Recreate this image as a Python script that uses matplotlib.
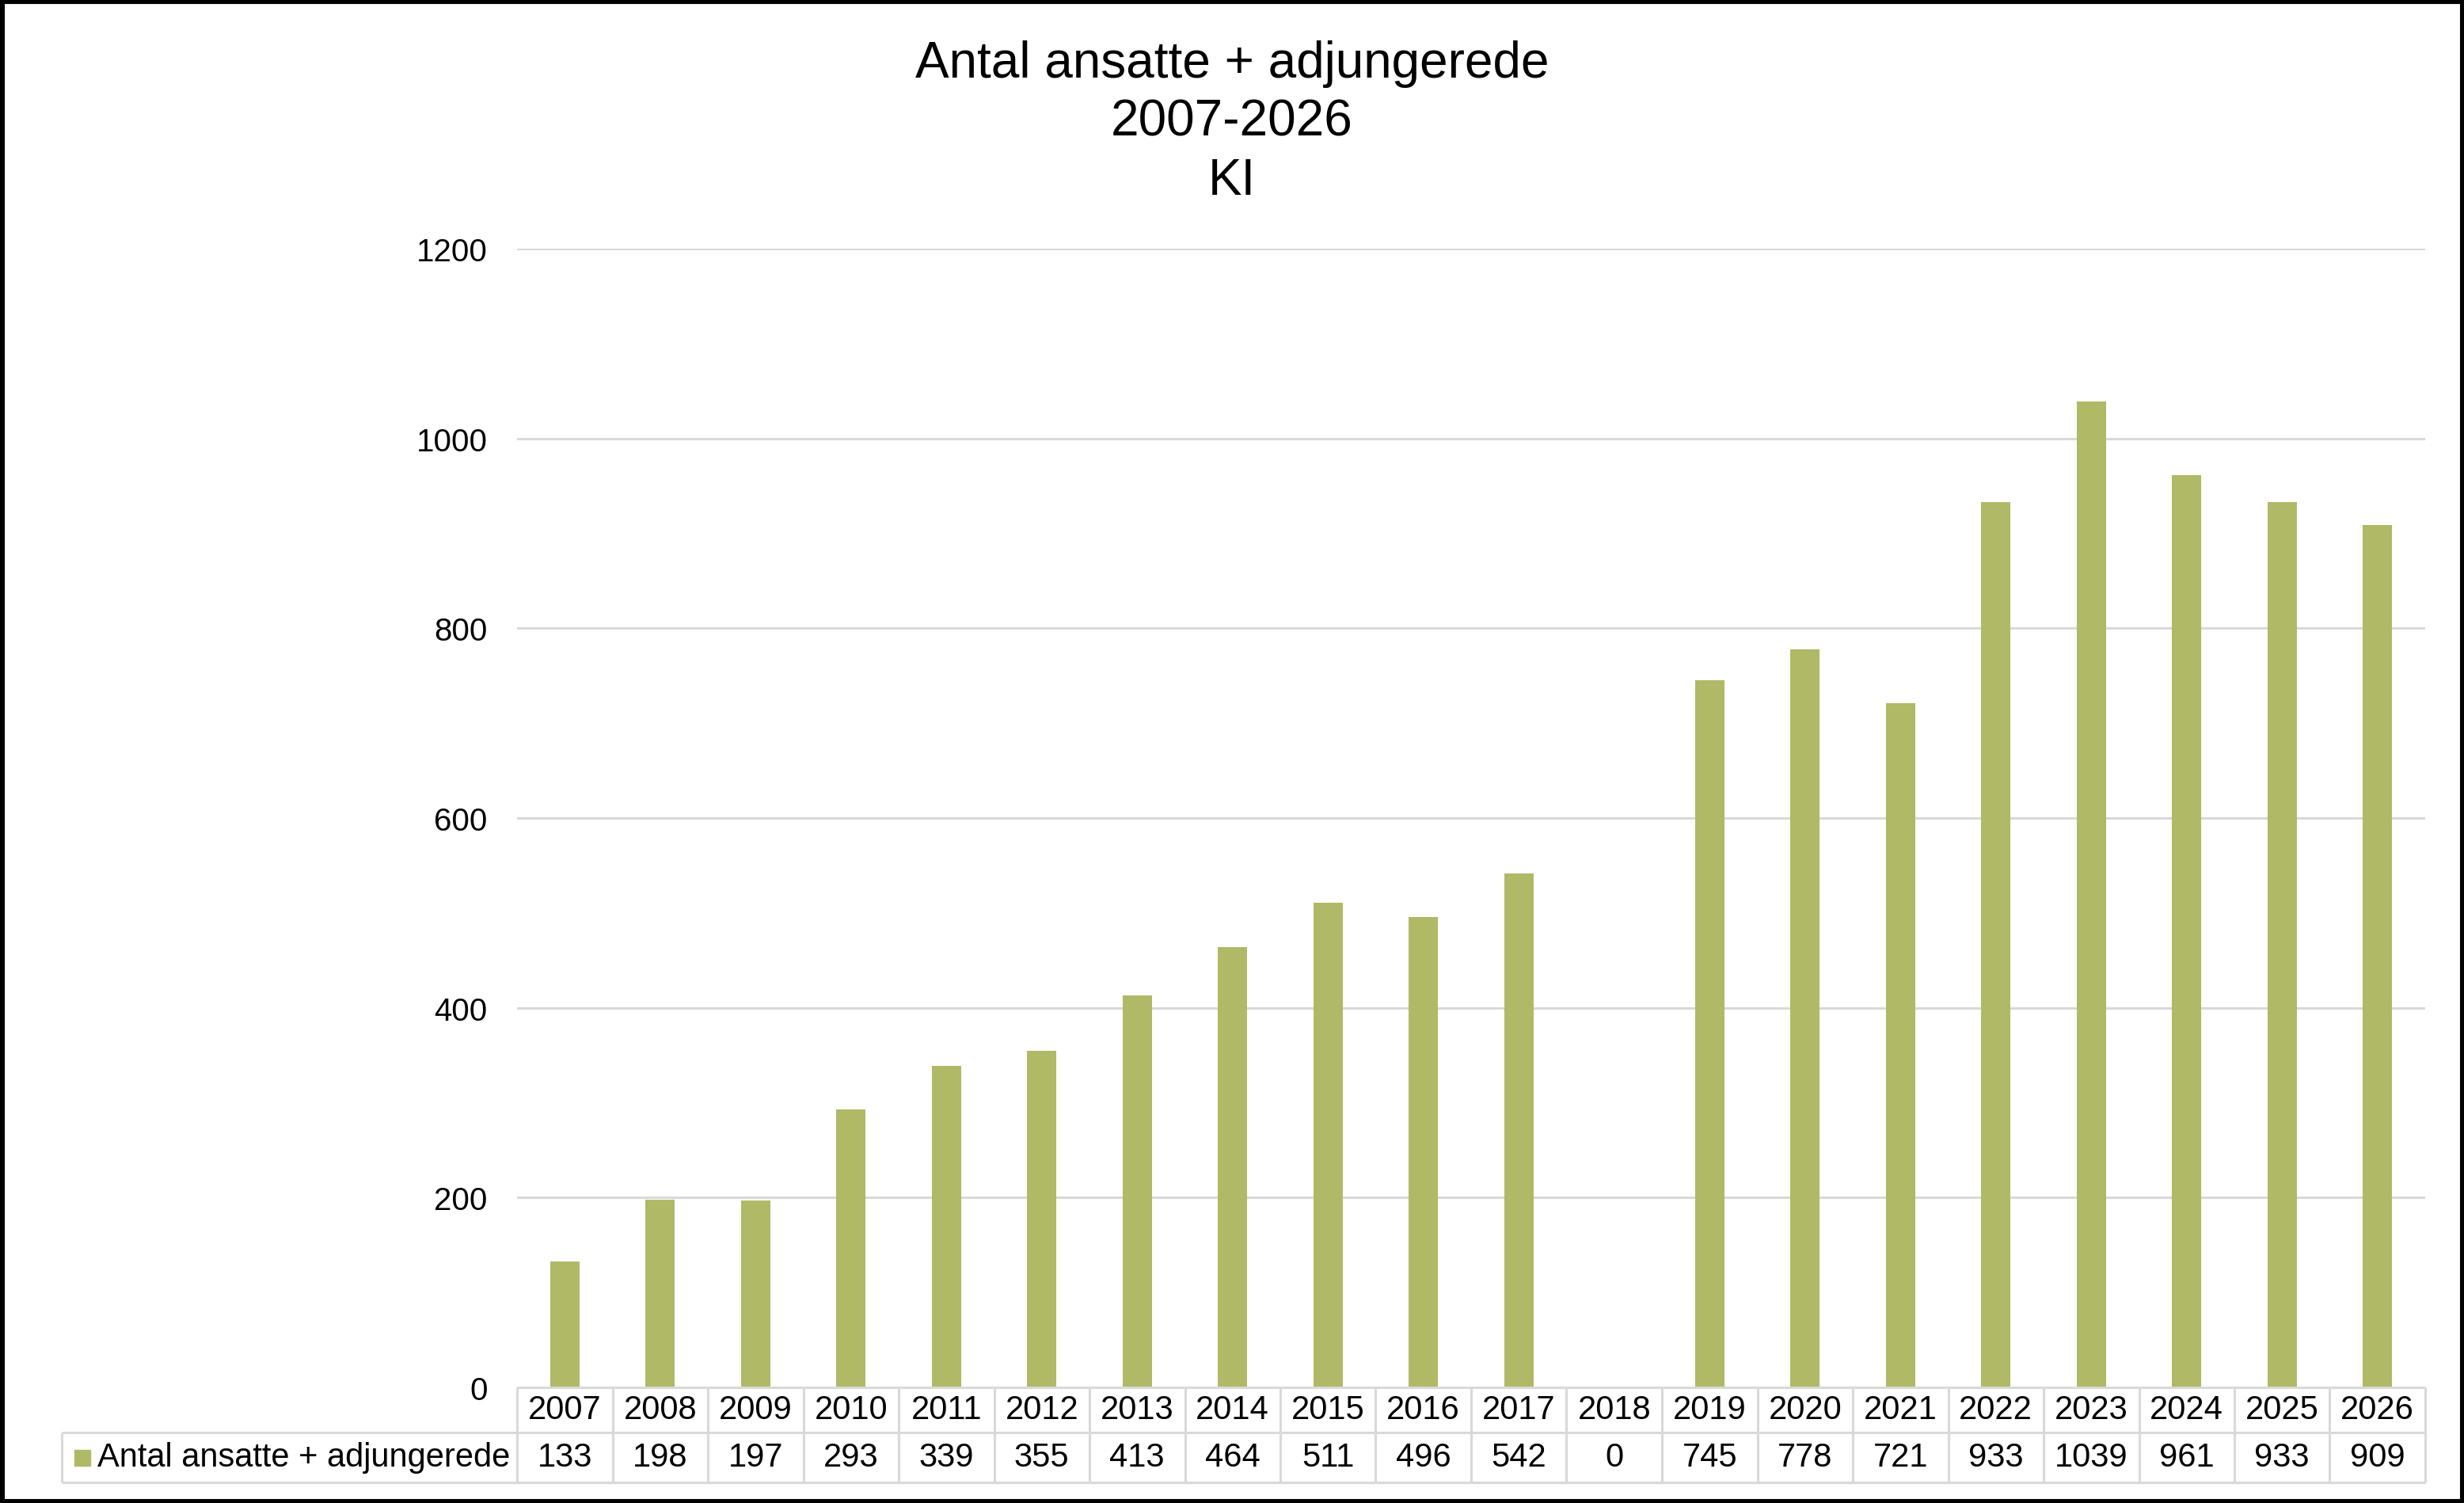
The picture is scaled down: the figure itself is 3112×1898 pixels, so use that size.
import matplotlib.pyplot as plt
import matplotlib.transforms as mtransforms
from matplotlib.patches import Rectangle

plt.rcParams['font.family'] = ['Liberation Sans', 'DejaVu Sans']

years = ['2007', '2008', '2009', '2010', '2011', '2012', '2013', '2014', '2015', '2016',
         '2017', '2018', '2019', '2020', '2021', '2022', '2023', '2024', '2025', '2026']
values = [133, 198, 197, 293, 339, 355, 413, 464, 511, 496,
          542, 0, 745, 778, 721, 933, 1039, 961, 933, 909]
series_name = 'Antal ansatte + adjungerede'
title_lines = ['Antal ansatte + adjungerede', '2007-2026', 'KI']
y_ticks = [0, 200, 400, 600, 800, 1000, 1200]

bar_color = '#AFB966'
grid_color = '#D9D9D9'

W, H = 3112, 1899
fig = plt.figure(figsize=(W / 100, H / 100), dpi=100)
# plot area in pixels: x 653..3063, y 315..1753
ax = fig.add_axes([653 / W, (H - 1753) / H, (3063 - 653) / W, (1753 - 315) / H])

x = list(range(len(years)))
ax.bar(x, values, width=0.31, color=bar_color, zorder=2)

ax.set_xlim(-0.5, len(years) - 0.5)
ax.set_ylim(0, 1200)
ax.set_yticks(y_ticks)
ax.set_yticklabels([str(t) for t in y_ticks], fontsize=29)
ax.tick_params(axis='y', length=0, pad=27)
ax.set_xticks([])
ax.yaxis.grid(True, color=grid_color, lw=2.2)
ax.set_axisbelow(True)
for s in ax.spines.values():
    s.set_visible(False)

# data table under the chart
trans = mtransforms.blended_transform_factory(ax.transData, ax.transAxes)
axh = 1753 - 315
r1 = -(1810 - 1753) / axh
r2 = -(1873 - 1753) / axh
colw = (3063 - 653) / len(years)
left_cell = -0.5 - (653 - 78) / colw
tl = dict(color=grid_color, lw=2.2, transform=trans, clip_on=False, solid_capstyle='butt')

ax.plot([-0.5, len(years) - 0.5], [0, 0], **tl)
ax.plot([left_cell, len(years) - 0.5], [r1, r1], **tl)
ax.plot([left_cell, len(years) - 0.5], [r2, r2], **tl)
ax.plot([left_cell, left_cell], [r1, r2], **tl)
for i in range(len(years) + 1):
    ax.plot([i - 0.5, i - 0.5], [0, r2], **tl)

for i, (yr, v) in enumerate(zip(years, values)):
    ax.text(i, r1 / 2, yr, ha='center', va='center', fontsize=30,
            transform=trans, clip_on=False)
    ax.text(i, (r1 + r2) / 2, str(v), ha='center', va='center', fontsize=30,
            transform=trans, clip_on=False)

ax.plot([-0.5 - (653 - 104) / colw], [(r1 + r2) / 2], marker='s', markersize=15,
        color=bar_color, transform=trans, clip_on=False)
ax.text(-0.5 - (653 - 123) / colw, (r1 + r2) / 2, series_name, ha='left', va='center',
        fontsize=30, transform=trans, clip_on=False)

# title
fig.text(0.5, 1 - 155 / H, '\n'.join(title_lines), ha='center', va='center',
         fontsize=46, linespacing=1.29)

# outer black frame
fig.patches.append(Rectangle((0, 0), 1, 1, transform=fig.transFigure, fill=False,
                             edgecolor='black', lw=8))

fig.savefig('out.png', dpi=100)
